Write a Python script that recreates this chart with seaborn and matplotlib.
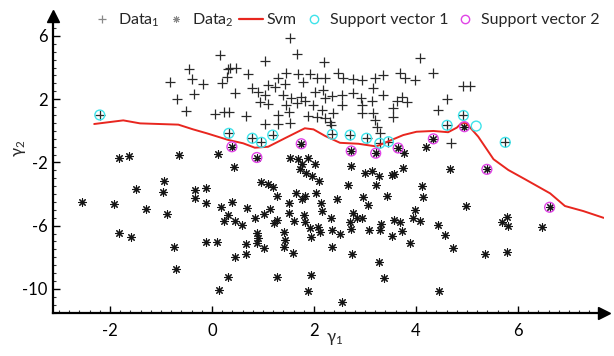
import numpy as np
import pandas as pd
import matplotlib
matplotlib.use("Agg")
import matplotlib.pyplot as plt
import seaborn as sns
from matplotlib.lines import Line2D
from matplotlib.ticker import MultipleLocator, FixedLocator

# ---------------- data ----------------
data1_x = [0.16, -0.45, 0.32, -0.82, -0.39, -0.18, 0.19, 0.29, -0.35, -0.68, -0.51, 0.06, 0.24, -2.20, 0.33,
           1.53, 1.66, 1.04, 2.20, 0.35, 0.48, 0.71, 1.30, 1.46, 1.69, 1.92, 2.05, 2.22, 2.48, 2.57, 2.77, 2.94,
           1.09, 1.24, 1.43, 1.78, 0.78, 0.91, 0.45, 1.03, 1.40, 1.55, 1.75, 2.01, 2.18, 2.22, 2.35, 2.54, 2.77, 2.92, 3.13,
           0.94, 1.09, 1.46, 1.66, 1.82, 1.99, 2.54, 2.94, 0.33, 0.66, 1.30, 1.50, 1.89, 2.05, 2.15, 2.38, 2.22, 2.31, 2.33,
           1.03, 1.30, 1.53, 2.94,
           0.79, 0.97, 1.19, 2.36, 2.71, 3.03,
           4.08, 4.34, 3.69, 3.36, 3.20, 3.78, 3.98, 4.93, 5.06, 3.15, 3.35, 3.72, 3.62, 3.83, 3.54, 4.61, 4.44, 3.55,
           3.16, 3.20, 3.23, 3.29, 4.68,
           3.29, 3.46, 4.93, 4.61, 5.75]
data1_y = [4.80, 3.91, 3.91, 3.11, 3.26, 2.94, 3.01, 3.39, 2.33, 2.01, 1.25, 1.04, 1.21, 1.00, -0.16,
           5.85, 4.84, 4.42, 4.34, 3.96, 3.96, 3.58, 3.32, 3.64, 3.58, 3.58, 3.36, 3.32, 3.64, 3.36, 3.28, 3.22,
           2.90, 2.79, 2.94, 3.11, 2.69, 2.47, 2.37, 2.27, 2.27, 2.09, 2.16, 2.47, 2.58, 2.09, 2.22, 2.27, 2.37, 2.09, 1.89,
           1.84, 1.68, 1.63, 1.74, 1.89, 1.63, 1.63, 1.63, 1.17, 0.96, 1.00, 1.17, 0.96, 0.89, 1.32, 1.11, 0.79, 0.54, 0.37,
           0.43, 0.41, 0.51, 1.11,
           -0.47, -0.73, -0.27, -0.22, -0.27, -0.47,
           4.59, 3.64, 3.64, 3.53, 3.34, 3.36, 3.22, 2.84, 2.84, 2.73, 2.27, 2.16, 1.89, 1.84, 1.46, 2.01, 1.32, 0.89,
           1.11, 0.68, 0.26, -0.16, -0.75,
           -0.79, -0.69, 0.97, 0.35, -0.73]

data2_x = [-1.82, -1.63, -0.64, 0.12, -0.95, -1.49, -0.97, -0.33, -0.12, -0.33, -2.55, -1.92, -0.12, 0.17,
           -1.30, -0.89, 0.32, 0.24, -1.82, -1.59, -0.75, -0.12, 0.09, -0.71, 0.14, 0.32,
           0.44, 1.53, 1.69, 1.89, 1.77, 2.02, 1.73, 1.84, 1.97, 2.10, 2.72, 3.00, 3.14, 3.27, 3.52,
           0.96, 1.10, 1.20, 1.28, 1.64, 2.03, 1.82, 1.77, 2.67, 3.21, 3.44, 2.97, 3.05, 2.45,
           0.39, 0.69, 1.50, 2.14, 2.15, 1.14, 1.01, 0.84, 0.46, 0.59, 1.50, 1.27, 1.22, 1.61, 1.80, 1.82,
           2.33, 2.77, 2.84, 2.94, 2.71, 3.31, 1.92, 2.08, 2.12, 1.95, 2.35, 2.51, 3.08, 3.29, 2.73,
           0.88, 0.91, 0.66, 0.88, 1.01, 1.42, 1.43, 1.42, 1.58, 0.46, 0.66, 2.36, 2.75, 3.52, 3.27,
           1.28, 1.94, 1.88, 3.38, 2.55,
           4.20, 3.76, 3.57, 3.75, 4.67, 4.12, 4.14, 3.98, 3.57, 3.69, 3.94, 4.08, 3.72, 3.88, 4.43, 4.57,
           4.98, 4.73, 5.36, 5.78, 5.78, 5.68, 5.81, 6.48, 4.46,
           0.39, 0.88, 1.75, 2.73, 3.21, 3.65, 4.34, 4.95, 5.39, 6.62]
data2_y = [-1.74, -1.59, -1.53, -1.49, -3.16, -3.70, -3.85, -3.75, -3.64, -4.27, -4.49, -4.63, -4.59, -4.80,
           -4.97, -5.28, -5.33, -5.69, -6.49, -6.70, -7.34, -7.02, -7.02, -8.77, -10.08, -9.23,
           -2.27, -1.74, -1.80, -1.74, -2.10, -2.10, -2.44, -2.65, -2.86, -3.16, -2.23, -2.69, -2.53, -2.86, -2.80,
           -3.22, -3.37, -3.58, -4.13, -3.92, -3.92, -4.13, -4.34, -3.43, -3.43, -4.13, -4.21, -4.70, -4.34,
           -4.49, -4.91, -4.59, -4.55, -5.06, -4.97, -5.27, -5.54, -5.69, -5.96, -5.18, -5.65, -5.82, -5.71, -5.33, -5.75,
           -5.54, -5.22, -5.54, -5.54, -5.75, -5.90, -6.17, -6.07, -6.39, -6.70, -6.28, -6.55, -6.28, -6.28, -6.23,
           -6.49, -6.80, -7.16, -7.12, -7.44, -6.39, -6.91, -7.34, -7.72, -7.97, -7.82, -7.37, -7.80, -6.66, -8.28,
           -9.23, -9.13, -10.12, -9.34, -10.82,
           -1.01, -1.42, -2.73, -2.37, -2.44, -3.49, -4.17, -5.01, -5.65, -5.75, -5.54, -5.69, -6.34, -7.12, -5.96, -6.59,
           -4.74, -7.44, -7.82, -7.65, -5.44, -5.75, -6.01, -6.11, -10.12,
           -1.01, -1.69, -0.82, -1.28, -1.42, -1.09, -0.51, 0.26, -2.44, -4.84]

svm_x = [-2.31, -1.74, -1.41, -0.66, -0.37, -0.10, 0.32, 0.61, 0.84, 1.10, 1.43, 1.82, 1.99, 2.22, 2.51,
         2.87, 3.22, 3.49, 3.75, 4.01, 4.34, 4.63, 4.80, 4.90, 4.99, 5.22, 5.52, 5.81, 6.14, 6.63, 6.92,
         7.28, 7.68]
svm_y = [0.43, 0.66, 0.47, 0.39, 0.09, -0.16, -0.58, -0.79, -1.07, -1.01, -0.47, 0.16, 0.09, -0.33, -0.76,
         -0.82, -0.99, -0.62, -0.27, -0.06, -0.01, -0.09, 0.20, 0.51, 0.47, -0.37, -1.80, -2.48, -3.07, -3.96,
         -4.76, -5.08, -5.51]

sv1_x = [-2.20, 0.33, 0.79, 0.97, 1.19, 2.36, 2.71, 3.03, 3.29, 3.46, 4.93, 4.61, 5.18, 5.75]
sv1_y = [1.00, -0.16, -0.47, -0.73, -0.27, -0.22, -0.27, -0.47, -0.79, -0.69, 0.97, 0.35, 0.30, -0.73]

sv2_x = [0.39, 0.88, 1.75, 2.73, 3.21, 3.65, 4.34, 4.95, 5.39, 6.62]
sv2_y = [-1.01, -1.69, -0.82, -1.28, -1.42, -1.09, -0.51, 0.26, -2.44, -4.84]

x_ticks = [-2, 0, 2, 4, 6]
y_ticks = [-10, -6, -2, 2, 6]
legend_labels = ["Data$_1$", "Data$_2$", "Svm", "Support vector 1", "Support vector 2"]
x_label = "\u03b3$_1$"
y_label = "\u03b3$_2$"

# ---------------- styling ----------------
sns.set_theme(style="ticks")
plt.rcParams["font.family"] = ["Lato", "Noto Sans", "DejaVu Sans"]
plt.rcParams["mathtext.fontset"] = "custom"
plt.rcParams["mathtext.rm"] = "Lato"
plt.rcParams["mathtext.it"] = "Lato"
plt.rcParams["mathtext.default"] = "regular"
plt.rcParams["mathtext.fallback"] = "stixsans"
plt.rcParams["axes.linewidth"] = 1.6

RED = "#e8261f"
CYAN = "#3fe3ea"
MAGENTA = "#e044e6"
ASTER = (8, 2, 0)

fig = plt.figure(figsize=(6.14, 3.56), dpi=100)
W, H = 614, 356
ax_l, ax_r, ax_t, ax_b = 53, 604, 16, 313
ax = fig.add_axes([ax_l / W, 1 - ax_b / H, (ax_r - ax_l) / W, (ax_b - ax_t) / H])

df1 = pd.DataFrame({"x": data1_x, "y": data1_y})
df2 = pd.DataFrame({"x": data2_x, "y": data2_y})
dsv = pd.DataFrame({"x": svm_x, "y": svm_y})
ds1 = pd.DataFrame({"x": sv1_x, "y": sv1_y})
ds2 = pd.DataFrame({"x": sv2_x, "y": sv2_y})

sns.scatterplot(data=df1, x="x", y="y", marker="+", s=44, color="#2a2a2a", linewidth=0.9, ax=ax, zorder=3)
sns.scatterplot(data=df2, x="x", y="y", marker=ASTER, s=30, color="#151515", linewidth=0.8, ax=ax, zorder=3)
sns.lineplot(data=dsv, x="x", y="y", sort=False, estimator=None, color=RED, linewidth=1.4, ax=ax, zorder=4)
sns.scatterplot(data=ds1, x="x", y="y", marker="o", s=50, facecolor="none", edgecolor=CYAN, linewidth=1.0, ax=ax, zorder=5)
sns.scatterplot(data=ds2, x="x", y="y", marker="o", s=50, facecolor="none", edgecolor=MAGENTA, linewidth=1.0, ax=ax, zorder=5)

ax.set_xlim((ax_l - 212) / 51, (ax_r - 212) / 51)
ax.set_ylim((130.8 - ax_b) / 15.8, (130.8 - ax_t) / 15.8)

sns.despine(ax=ax)
ax.spines["left"].set_color("black")
ax.spines["bottom"].set_color("black")

ax.xaxis.set_major_locator(FixedLocator(x_ticks))
ax.yaxis.set_major_locator(FixedLocator(y_ticks))
ax.xaxis.set_minor_locator(MultipleLocator(0.2))
ax.yaxis.set_minor_locator(MultipleLocator(0.5))
ax.set_xticklabels([str(t) for t in x_ticks])
ax.set_yticklabels([str(t) for t in y_ticks])
ax.tick_params(which="major", direction="in", length=5, width=1.0, labelsize=12, colors="black", pad=4)
ax.tick_params(which="minor", direction="in", length=2.5, width=0.8, colors="#333333")
ax.tick_params(axis="x", which="major", pad=7)

# axis arrows
ax.plot(1, 0, ">", color="black", markersize=8, transform=ax.transAxes, clip_on=False, zorder=6)
ax.plot(0, 1, "^", color="black", markersize=8, transform=ax.transAxes, clip_on=False, zorder=6)

ax.set_xlabel(x_label, fontsize=12)
ax.set_ylabel(y_label, fontsize=12)
ax.xaxis.set_label_coords((335 - ax_l) / (ax_r - ax_l), (ax_b - 331) / (ax_b - ax_t))
ax.yaxis.set_label_coords((28 - ax_l) / (ax_r - ax_l), (ax_b - 148) / (ax_b - ax_t))

handles = [
    Line2D([], [], linestyle="none", marker="+", markersize=6, color="#888888", markeredgewidth=0.9),
    Line2D([], [], linestyle="none", marker=ASTER, markersize=5, color="#888888", markeredgewidth=0.7),
    Line2D([], [], color=RED, linewidth=1.6),
    Line2D([], [], linestyle="none", marker="o", markersize=6, markerfacecolor="none", markeredgecolor=CYAN, markeredgewidth=1.0),
    Line2D([], [], linestyle="none", marker="o", markersize=6, markerfacecolor="none", markeredgecolor=MAGENTA, markeredgewidth=1.0),
]
fig.legend(handles, legend_labels, loc="center left", bbox_to_anchor=(90 / W, 1 - 20 / H),
           ncol=5, frameon=False, fontsize=11.5, handlelength=1.5, handletextpad=0.25,
           columnspacing=0.3, borderpad=0, borderaxespad=0)

fig.savefig("out.png", dpi=100)
